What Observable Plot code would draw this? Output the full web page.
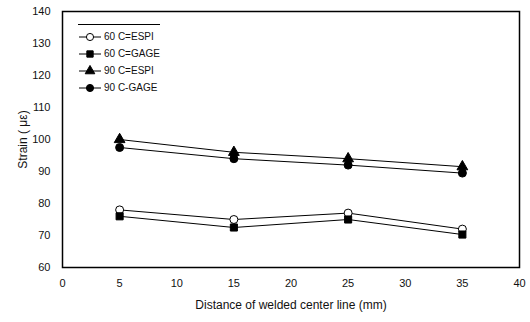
<!DOCTYPE html>
<html>
<head>
<meta charset="utf-8">
<script src="https://cdn.jsdelivr.net/npm/d3@7"></script>
<script src="https://cdn.jsdelivr.net/npm/@observablehq/plot@0.6"></script>
<style>
  body { margin: 0; background: #fff; }
  #wrap { position: relative; width: 530px; height: 322px; font-family: "Liberation Sans", Arial, sans-serif; }
  #legend { position: absolute; left: 78px; top: 24px; border-top: 1px solid #000; padding-top: 3px; font-size: 10px; color: #111; }
  #legend .row { display: flex; align-items: center; height: 17px; }
  #legend svg { margin-right: 2px; }
</style>
</head>
<body>
<div id="wrap"><div id="chart"></div><div id="legend"></div></div>
<script>
const distances = [5, 15, 25, 35];
const seriesNames = ["60 C=ESPI", "60 C=GAGE", "90 C=ESPI", "90 C-GAGE"];
const esp60 = [78, 75, 77, 72];
const gage60 = [76, 72.5, 75, 70.3];
const esp90 = [100, 96, 94, 91.5];
const gage90 = [97.5, 94, 92, 89.5];
const xTicks = [0, 5, 10, 15, 20, 25, 30, 35, 40];
const yTicks = [60, 70, 80, 90, 100, 110, 120, 130, 140];
const symbols = ["circle", "square", "triangle", "circle"];
const fills = ["white", "black", "black", "black"];

const allSeries = [esp60, gage60, esp90, gage90];
const data = [];
allSeries.forEach((vals, i) => vals.forEach((v, j) => data.push({series: seriesNames[i], x: distances[j], y: v})));

const chart = Plot.plot({
  width: 530,
  height: 322,
  marginLeft: 62,
  marginRight: 11,
  marginTop: 11,
  marginBottom: 55,
  style: {fontFamily: "'Liberation Sans', Arial, sans-serif", fontSize: "11px", color: "#111", background: "white"},
  x: {domain: [0, 40], ticks: xTicks, tickSize: 0, tickPadding: 12, label: "Distance of welded center line (mm)", labelAnchor: "center", labelOffset: 41, labelArrow: "none"},
  y: {domain: [60, 140], ticks: yTicks, tickSize: 0, tickPadding: 12, label: "Strain ( με)", labelAnchor: "center", labelOffset: 44, labelArrow: "none"},
  symbol: {domain: seriesNames, range: symbols},
  color: {domain: seriesNames, range: fills},
  marks: [
    Plot.frame({stroke: "black", strokeWidth: 1.5}),
    Plot.line(data, {x: "x", y: "y", z: "series", stroke: "black", strokeWidth: 1}),
    Plot.dot(data, {x: "x", y: "y", symbol: "series", fill: "series", stroke: "black", strokeWidth: 1, r: 4})
  ]
});
chart.querySelectorAll("text").forEach(t => { if (t.textContent.includes("Distance") || t.textContent.includes("Strain")) t.style.fontSize = "12px"; });
document.getElementById("chart").appendChild(chart);

const legend = document.getElementById("legend");
seriesNames.forEach((name, i) => {
  const row = document.createElement("div");
  row.className = "row";
  const sym = d3.symbol(symbols[i] === "circle" ? d3.symbolCircle : symbols[i] === "square" ? d3.symbolSquare : d3.symbolTriangle, 40)();
  row.innerHTML = `<svg width="24" height="12"><line x1="1" x2="23" y1="6" y2="6" stroke="black"/><path d="${sym}" transform="translate(12,6)" fill="${fills[i]}" stroke="black"/></svg><span>${name}</span>`;
  legend.appendChild(row);
});
</script>
</body>
</html>
